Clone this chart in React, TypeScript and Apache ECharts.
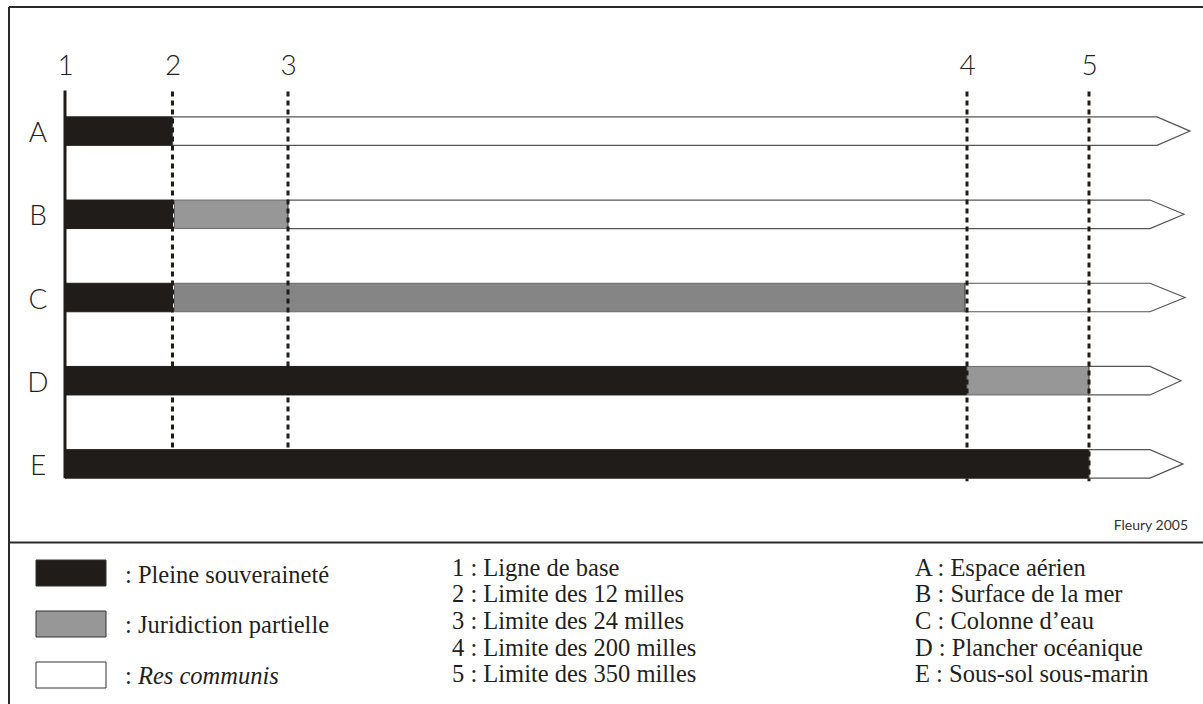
import React, { useEffect, useRef } from "react";
import * as echarts from "echarts";

// ---- data ----
const rows = ["A", "B", "C", "D", "E"];
const limitLabels = ["1", "2", "3", "4", "5"];
// positions along the distance axis (arbitrary units, baseline = 0)
const limitPositions = [0, 107.5, 223, 902, 1024];

// per row: Pleine souveraineté (from baseline)
const pleineEnd = [107.5, 107.5, 107.5, 902, 1024];
// per row: Juridiction partielle
const partielleStart = [null, 109.5, 109.5, 902, null];
const partielleEnd = [null, 223, 900, 1024, null];
const partielleShade = ["", "light", "dark", "light", ""];
// per row: Res communis (arrow)
const communisStart = [107.5, 223, 900, 1024, 1024];
const arrowBodyEnd = [1092, 1085, 1085, 1085, 1085];
const arrowTip = [1125, 1119, 1120, 1116, 1118];

const legendItems = [": Pleine souveraineté", ": Juridiction partielle", ": {i|Res communis}"];
const limitNotes = [
  "1 : Ligne de base",
  "2 : Limite des 12 milles",
  "3 : Limite des 24 milles",
  "4 : Limite des 200 milles",
  "5 : Limite des 350 milles",
];
const rowNotes = [
  "A : Espace aérien",
  "B : Surface de la mer",
  "C : Colonne d’eau",
  "D : Plancher océanique",
  "E : Sous-sol sous-marin",
];
const credit = "Fleury 2005";

const BLACK = "#201c19";
const GRAY_LIGHT = "#979797";
const GRAY_DARK = "#858585";
const SANS = "Lato, 'DejaVu Sans', sans-serif";
const SERIF = "'Liberation Serif', 'Times New Roman', serif";
const SERIF_SIZE = 24.5;

export default function App() {
  const ref = useRef<HTMLDivElement>(null);

  useEffect(() => {
    if (!ref.current) return;
    const chart = echarts.init(ref.current, undefined, { renderer: "svg" });

    // segment table: [row, start, end, kind(0 black,1 light gray,2 dark gray,3 arrow), tip]
    const segments: number[][] = [];
    rows.forEach((_, i) => {
      segments.push([i, 0, pleineEnd[i], 0, 0]);
      if (partielleStart[i] != null && partielleEnd[i] != null) {
        segments.push([i, partielleStart[i] as number, partielleEnd[i] as number, partielleShade[i] === "dark" ? 2 : 1, 0]);
      }
      segments.push([i, communisStart[i], arrowBodyEnd[i], 3, arrowTip[i]]);
    });

    const BAR_H = 28.5;

    const graphic: any[] = [];
    // frame
    graphic.push({ type: "line", shape: { x1: 9, y1: 7, x2: 1203, y2: 7 }, style: { stroke: "#2b2b2b", lineWidth: 2 } });
    graphic.push({ type: "line", shape: { x1: 9, y1: 7, x2: 9, y2: 704 }, style: { stroke: "#2b2b2b", lineWidth: 2 } });
    graphic.push({ type: "line", shape: { x1: 9, y1: 542.5, x2: 1203, y2: 542.5 }, style: { stroke: "#2b2b2b", lineWidth: 2 } });
    // credit
    graphic.push({
      type: "text",
      x: 1188,
      y: 524,
      style: { text: credit, fontSize: 14, fontFamily: SANS, fill: "#333", align: "right", verticalAlign: "middle" },
    });
    // legend swatches
    const swatchFill = [BLACK, GRAY_LIGHT, "#ffffff"];
    const swatchY = [560, 611, 662];
    const legendTextY = [574, 624, 675];
    legendItems.forEach((t, i) => {
      graphic.push({
        type: "rect",
        shape: { x: 36, y: swatchY[i], width: 70, height: 26 },
        style: { fill: swatchFill[i], stroke: "#333", lineWidth: 1 },
      });
      graphic.push({
        type: "text",
        x: 125,
        y: legendTextY[i],
        style: {
          text: t,
          fontSize: SERIF_SIZE,
          fontFamily: SERIF,
          fill: "#231f20",
          verticalAlign: "middle",
          rich: { i: { fontStyle: "italic", fontSize: SERIF_SIZE, fontFamily: SERIF, fill: "#231f20" } },
        },
      });
    });
    limitNotes.forEach((t, i) => {
      graphic.push({
        type: "text",
        x: 452,
        y: 567 + i * 26.7,
        style: { text: t, fontSize: SERIF_SIZE, fontFamily: SERIF, fill: "#231f20", verticalAlign: "middle" },
      });
    });
    rowNotes.forEach((t, i) => {
      graphic.push({
        type: "text",
        x: 915,
        y: 567 + i * 26.7,
        style: { text: t, fontSize: SERIF_SIZE, fontFamily: SERIF, fill: "#231f20", verticalAlign: "middle" },
      });
    });

    chart.setOption({
      animation: false,
      backgroundColor: "#ffffff",
      grid: { left: 65, right: 8, top: 89.5, height: 416 },
      xAxis: {
        type: "value",
        min: 0,
        max: 1130,
        show: false,
      },
      yAxis: {
        type: "category",
        data: rows,
        inverse: true,
        axisLine: { show: false },
        axisTick: { show: false },
        splitLine: { show: false },
        axisLabel: {
          margin: 27,
          align: "center",
          fontSize: 28,
          fontWeight: 300,
          fontFamily: SANS,
          color: "#231f20",
        },
      },
      graphic,
      series: [
        {
          type: "custom",
          name: "segments",
          data: segments,
          encode: { x: [1, 2], y: 0 },
          renderItem: (params: any, api: any) => {
            const row = api.value(0);
            const s = api.value(1);
            const e = api.value(2);
            const kind = api.value(3);
            const [x1, yc] = api.coord([s, row]);
            const [x2] = api.coord([e, row]);
            const top = yc - BAR_H / 2;
            const bot = yc + BAR_H / 2;
            if (kind === 3) {
              const [xt] = api.coord([api.value(4), row]);
              return {
                type: "polygon",
                shape: { points: [[x1, top], [x2, top], [xt, yc], [x2, bot], [x1, bot]] },
                style: { fill: "#ffffff", stroke: "#555", lineWidth: 1.2 },
              };
            }
            const fill = kind === 0 ? BLACK : kind === 1 ? GRAY_LIGHT : GRAY_DARK;
            return {
              type: "rect",
              shape: { x: x1, y: top, width: x2 - x1, height: BAR_H },
              style: { fill, stroke: kind === 0 ? BLACK : "#6a6a6a", lineWidth: 1 },
            };
          },
          z: 2,
        },
        {
          type: "custom",
          name: "limits",
          data: limitPositions.map((p, i) => [p, i]),
          encode: { x: 0 },
          renderItem: (params: any, api: any) => {
            const idx = api.value(1);
            const [x] = api.coord([api.value(0), 0]);
            const [, yE] = api.coord([0, rows.length - 1]);
            const gridTop = params.coordSys.y;
            const children: any[] = [];
            if (idx === 0) {
              children.push({
                type: "line",
                shape: { x1: x, y1: gridTop + 1, x2: x, y2: yE + BAR_H / 2 },
                style: { stroke: BLACK, lineWidth: 3 },
              });
            } else {
              const yBottom = idx >= 3 ? yE + BAR_H / 2 + 3 : yE - BAR_H / 2 - 1;
              children.push({
                type: "line",
                shape: { x1: x, y1: gridTop + 2, x2: x, y2: yBottom },
                style: { stroke: BLACK, lineWidth: 3, lineDash: [5, 4] },
              });
            }
            children.push({
              type: "text",
              x: x + 0.5,
              y: gridTop - 26,
              style: {
                text: limitLabels[idx],
                fontSize: 28,
                fontWeight: 300,
                fontFamily: SANS,
                fill: "#231f20",
                align: "center",
                verticalAlign: "middle",
              },
            });
            return { type: "group", children };
          },
          z: 3,
        },
      ],
    });

    return () => chart.dispose();
  }, []);

  return (
    <div
      ref={ref}
      style={{ position: "fixed", left: 0, top: 0, width: 1203, height: 704, background: "#fff" }}
    />
  );
}
